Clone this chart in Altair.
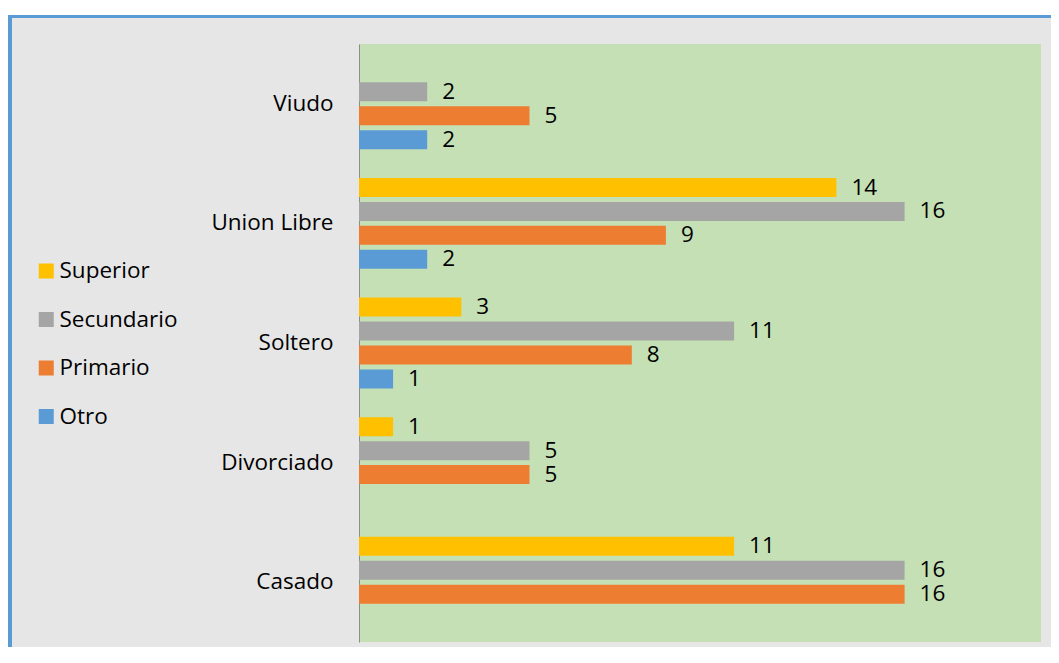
import altair as alt
import pandas as pd

categories = ["Viudo", "Union Libre", "Soltero", "Divorciado", "Casado"]
levels = ["Superior", "Secundario", "Primario", "Otro"]
superior = [0, 14, 3, 1, 11]
secundario = [2, 16, 11, 5, 16]
primario = [5, 9, 8, 5, 16]
otro = [2, 2, 1, 0, 0]
colors = ["#FFC000", "#A5A5A5", "#ED7D31", "#5B9BD5"]

rows = []
for lvl, vals in zip(levels, [superior, secundario, primario, otro]):
    for c, v in zip(categories, vals):
        rows.append({"estado": c, "nivel": lvl, "valor": v})
df = pd.DataFrame(rows)

FONT = "Open Sans"
FS = 22.5

base = alt.Chart(df).encode(
    y=alt.Y(
        "estado:N",
        sort=categories,
        scale=alt.Scale(domain=categories, paddingInner=0.2, paddingOuter=0.1),
        axis=alt.Axis(
            title=None, ticks=False, tickSize=0, labelPadding=26,
            labelFontSize=FS, labelFont=FONT, labelColor="#000000",
            domainColor="#8C8C8C", domainWidth=1, grid=False,
        ),
    ),
    yOffset=alt.YOffset(
        "nivel:N",
        sort=levels,
        scale=alt.Scale(domain=levels, paddingInner=0.206, paddingOuter=0.103),
    ),
)

bars = base.mark_bar().encode(
    x=alt.X("valor:Q", scale=alt.Scale(domain=[0, 20], nice=False), axis=None),
    color=alt.Color(
        "nivel:N",
        sort=levels,
        scale=alt.Scale(domain=levels, range=colors),
        legend=alt.Legend(
            title=None, orient="none", legendX=-324, legendY=215.75,
            symbolType="square", symbolSize=225, symbolStrokeWidth=0,
            symbolOpacity=1, labelFont=FONT, labelFontSize=FS,
            labelColor="#000000", labelOffset=2, rowPadding=25.5, padding=0,
        ),
    ),
).transform_filter("datum.valor > 0")

labels = base.mark_text(
    align="left", baseline="middle", dx=15, font=FONT, fontSize=FS, color="#000000"
).encode(
    x=alt.X("valor:Q", scale=alt.Scale(domain=[0, 20], nice=False), axis=None),
    text="valor:Q",
).transform_filter("datum.valor > 0")

deco_df = pd.DataFrame({"k": [0]})
white_top = alt.Chart(deco_df).mark_rect(color="white").encode(
    x=alt.value(-351), x2=alt.value(702), y=alt.value(-36), y2=alt.value(-29)
)
blue_top = alt.Chart(deco_df).mark_rect(color="#5B9BD5").encode(
    x=alt.value(-351), x2=alt.value(702), y=alt.value(-29), y2=alt.value(-26)
)
blue_left = alt.Chart(deco_df).mark_rect(color="#5B9BD5").encode(
    x=alt.value(-351), x2=alt.value(-347), y=alt.value(-29), y2=alt.value(603)
)

chart = alt.layer(white_top, blue_top, blue_left, bars, labels).properties(
    width=682,
    height=598,
    autosize=alt.AutoSizeParams(type="none"),
    padding={"left": 351, "top": 36, "right": 10, "bottom": 5},
    background="#E6E6E6",
).configure_view(fill="#C5E0B4", strokeWidth=0)

chart.save("out.html", embed_options={"renderer": "svg", "actions": False})
